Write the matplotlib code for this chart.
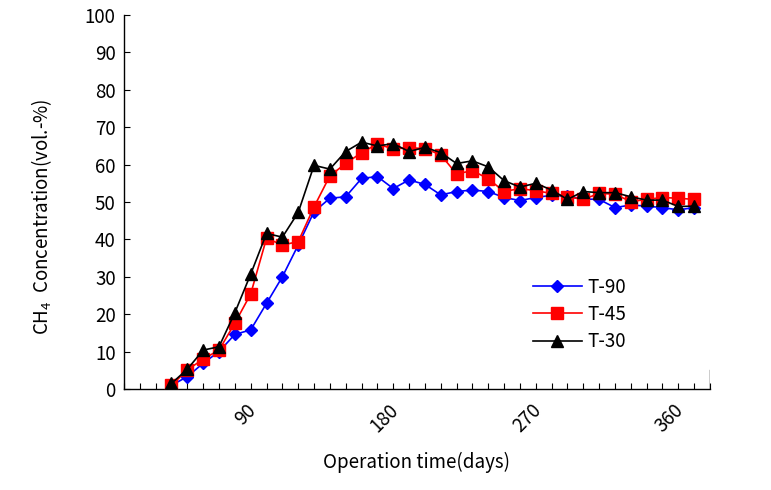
import matplotlib
matplotlib.use("Agg")
import matplotlib.pyplot as plt
from matplotlib.ticker import FixedLocator, MultipleLocator
import matplotlib.transforms as mtrans

plt.rcParams['font.family'] = ['Noto Sans CJK KR', 'DejaVu Sans']
plt.rcParams['mathtext.default'] = 'regular'

days = [30, 40, 50, 60, 70, 80, 90, 100, 110, 120, 130, 140, 150, 160, 170, 180,
        190, 200, 210, 220, 230, 240, 250, 260, 270, 280, 290, 300, 310, 320,
        330, 340, 350, 360]

t90 = [1.0, 3.3, 6.9, 10.0, 14.6, 15.8, 22.9, 30.0, 38.5, 47.4, 51.0, 51.4,
       56.3, 56.8, 53.6, 55.9, 54.7, 51.9, 52.8, 53.2, 52.8, 51.2, 50.4, 51.2,
       51.8, 51.5, 50.8, 50.7, 48.5, 49.2, 48.9, 48.5, 47.9, 48.5]

t45 = [1.0, 5.1, 8.0, 10.4, 17.6, 25.4, 40.3, 38.5, 39.4, 48.7, 57.0, 60.3,
       63.2, 65.5, 64.2, 64.5, 64.3, 62.6, 57.5, 58.4, 56.2, 52.8, 53.6, 53.0,
       52.3, 51.4, 50.7, 52.3, 52.1, 50.1, 50.7, 51.2, 51.0, 50.7]

t30 = [1.5, 5.3, 10.4, 11.3, 20.4, 30.7, 41.6, 40.6, 47.2, 59.8, 58.8, 63.5,
       66.0, 65.0, 65.6, 63.5, 64.6, 63.2, 60.3, 61.0, 59.4, 55.7, 54.0, 55.0,
       53.2, 50.7, 52.8, 52.5, 52.5, 51.4, 50.5, 50.5, 48.8, 48.9]

x_ticklabels = [90, 180, 270, 360]
series_names = ['T-90', 'T-45', 'T-30']

FS = 13.5

fig = plt.figure(figsize=(7.71, 4.90), dpi=100)
ax = fig.add_axes([0.1608, 0.2061, 0.9209 - 0.1608, 0.9694 - 0.2061])

ax.plot(days, t90, color='#0000FF', marker='D', markersize=6.5, lw=1.2,
        label=series_names[0], zorder=3)
ax.plot(days, t45, color='#FF0000', marker='s', markersize=8.5, lw=1.2,
        label=series_names[1], zorder=4)
ax.plot(days, t30, color='black', marker='^', markersize=8.5, lw=1.2,
        label=series_names[2], zorder=5)

ax.set_xlim(0, 370)
ax.set_ylim(0, 100)
ax.spines['top'].set_visible(False)
ax.spines['right'].set_visible(False)
ax.spines['left'].set_linewidth(1.0)
ax.spines['bottom'].set_linewidth(1.0)

ax.xaxis.set_major_locator(FixedLocator(x_ticklabels))
ax.xaxis.set_minor_locator(MultipleLocator(10))
ax.set_xticklabels([str(v) for v in x_ticklabels])
ax.yaxis.set_major_locator(MultipleLocator(10))
ax.tick_params(axis='x', which='both', direction='in', length=4, width=0.8,
               labelsize=FS, pad=8)
ax.tick_params(axis='y', which='major', direction='in', length=4, width=0.8,
               labelsize=FS, pad=6)
ax.axvline(370, ymin=0, ymax=0.05, color='black', lw=1.0)

offset = mtrans.ScaledTranslation(-6 / 100, 0, fig.dpi_scale_trans)
for lab in ax.get_xticklabels():
    lab.set_rotation(45)
    lab.set_ha('right')
    lab.set_va('top')
    lab.set_transform(lab.get_transform() + offset)

ax.set_xlabel('Operation time(days)', fontsize=FS, labelpad=11)
ax.set_ylabel('CH$_4$  Concentration(vol.-%)', fontsize=FS)
ax.yaxis.set_label_coords(-0.119, 0.46)

leg = ax.legend(loc='upper left', bbox_to_anchor=(0.685, 0.32), frameon=False,
                fontsize=FS, handlelength=2.6, labelspacing=0.33,
                handletextpad=0.3, borderaxespad=0)

fig.savefig('out.png', dpi=100)
